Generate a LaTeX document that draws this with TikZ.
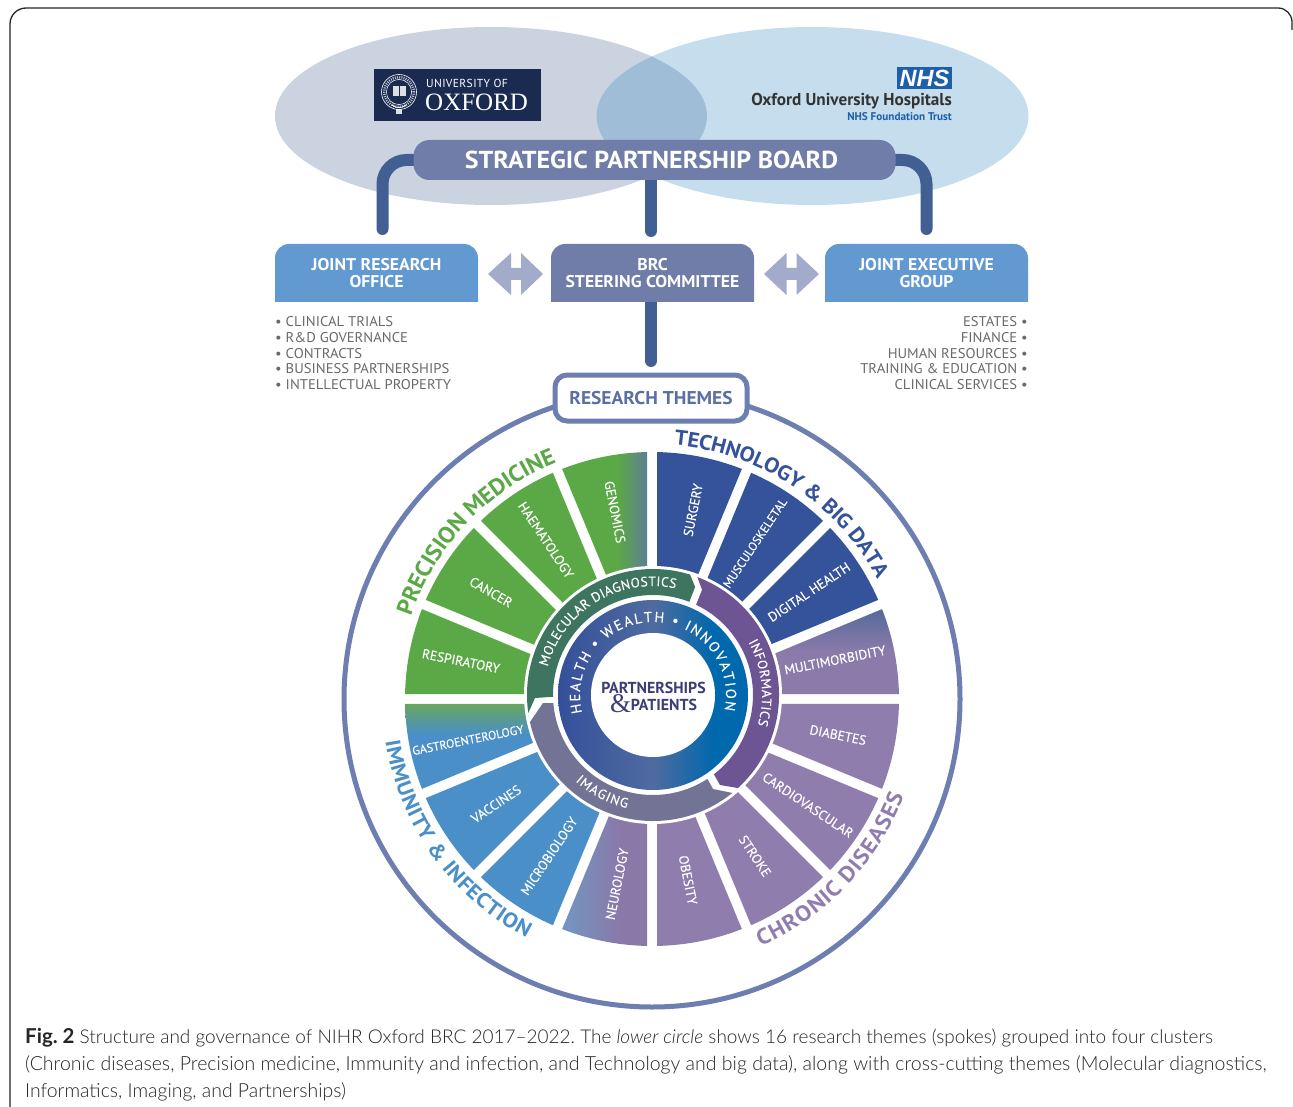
\documentclass[tikz,border=0pt]{standalone}
\usepackage{fontspec}
\setmainfont{PT Sans}
\newfontfamily\capfont{Lato Light}
\newfontfamily\capbold{Lato}
\newfontfamily\oxfont{Liberation Serif}
\newfontfamily\nhsfont{Liberation Sans}
\usetikzlibrary{calc}
\pgfdeclarelayer{back}
\pgfdeclarelayer{pipes}
\pgfsetlayers{back,pipes,main}
\definecolor{cgreen}{HTML}{5BA846}
\definecolor{ctech}{HTML}{35539A}
\definecolor{cimm}{HTML}{4A8FC7}
\definecolor{cpur}{HTML}{8F7DAE}
\definecolor{cchron}{HTML}{8F7DB0}
\definecolor{cmol}{HTML}{3E7560}
\definecolor{cinf}{HTML}{6D5594}
\definecolor{cimg}{HTML}{737396}
\definecolor{cboard}{HTML}{6F7DA8}
\definecolor{cpipe}{HTML}{425F93}
\definecolor{cbox}{HTML}{6299D1}
\definecolor{carrow}{HTML}{A3ABCB}
\definecolor{cring}{HTML}{6D7EB0}
\definecolor{clist}{HTML}{6A6A6A}
\definecolor{cnavy}{HTML}{3B3F75}
\definecolor{coxf}{HTML}{1A2A50}
\definecolor{cnhs}{HTML}{1D5FA8}
\definecolor{cellA}{HTML}{CAD3DF}
\definecolor{cellB}{HTML}{C6DDEE}
\definecolor{cellC}{HTML}{9FBDD6}
\definecolor{ctheme}{HTML}{5B6FA6}
\definecolor{HTMLgb}{HTML}{5E7F95}
\definecolor{HTMLmm}{HTML}{566A9A}
\definecolor{HTMLmm2}{HTML}{8A7BAA}
\definecolor{HTMLga}{HTML}{68A660}
\definecolor{HTMLne}{HTML}{7494BF}
\definecolor{HTMLne2}{HTML}{8A78A9}
\definecolor{HTMLr1}{HTML}{35509A}
\definecolor{HTMLr2}{HTML}{4F6BA0}
\definecolor{HTMLr3}{HTML}{0068AD}
\pgfdeclarehorizontalshading{genshade}{100bp}{color(0bp)=(cgreen);color(58bp)=(cgreen);color(75bp)=(HTMLgb);color(100bp)=(HTMLgb)}
\pgfdeclareverticalshading{mmshade}{100bp}{color(0bp)=(HTMLmm2);color(50bp)=(HTMLmm2);color(75bp)=(HTMLmm);color(100bp)=(HTMLmm)}
\pgfdeclareverticalshading{gashade}{100bp}{color(0bp)=(cimm);color(57bp)=(cimm);color(75bp)=(HTMLga);color(100bp)=(HTMLga)}
\pgfdeclarehorizontalshading{neshade}{100bp}{color(0bp)=(HTMLne);color(28bp)=(HTMLne);color(60bp)=(HTMLne2);color(100bp)=(HTMLne2)}
\pgfdeclarehorizontalshading{ringshade}{100bp}{color(0bp)=(HTMLr1);color(25bp)=(HTMLr1);color(50bp)=(HTMLr2);color(66bp)=(HTMLr3);color(100bp)=(HTMLr3)}
\tikzset{
  x=1pt,y=1pt,
  spokelabel/.style={text=white,font=\addfontfeature{FakeBold=0.2}\fontsize{13.4}{14}\selectfont},
  spokesmall/.style={text=white,font=\addfontfeature{FakeBold=0.2}\fontsize{12.1}{14}\selectfont},
  boxlabel/.style={text=white,font=\fontsize{17}{17}\selectfont\bfseries\addfontfeature{FakeStretch=1.04},align=center},
  listtext/.style={text=clist,font=\fontsize{14.1}{15.7}\selectfont\addfontfeature{FakeStretch=1.04}},
  pipe/.style={draw=cpipe,line width=12pt,line cap=round},
  govbox/.style={minimum width=203pt,minimum height=58pt,inner sep=0pt},
  caption/.style={text=black!85,inner sep=0pt,anchor=base west},
  arcletter/.style={inner sep=0pt,outer sep=0pt,anchor=base},
}
\newcommand\spoke[2]{%
  \path[#2] ($(wc)+({#1+11.25}:25.6)$) -- ($(wc)+({#1+1.16}:247)$)
    arc[start angle={#1+1.16},end angle={#1+21.34},radius=247] -- cycle;}
\newdimen\arcTotal \newdimen\arcW \newdimen\arcPos
\newcount\arcN \newcount\arcID \newcount\arcI
\newbox\arcBox
\makeatletter
% font, colour, letters (~ for a space), centre, radius, start angle, end angle,
% mode: 1 = steps proportional to letter widths, 0 = equal tracking between letters
\newcommand\arcMeasure[1]{\setbox\arcBox=\hbox{\pgfinterruptpicture#1\arcCh\endpgfinterruptpicture}}
\newcommand\arctext[8]{%
  \global\advance\arcID by 1
  \arcTotal=0pt \arcN=0 \arcI=0
  \@tfor\arcCh:=#3\do{\arcMeasure{#1}\advance\arcTotal by\wd\arcBox \advance\arcN by 1 }%
  \pgfmathsetmacro\arcSgn{(#7>#6)?1:-1}%
  \pgfmathsetmacro\arcLen{abs(#7-#6)*3.14159265/180*#5}%
  \pgfmathsetmacro\arcGap{(\arcLen-\the\arcTotal)/(\the\arcN-1)}%
  \pgfmathsetmacro\arcScale{\arcLen/\the\arcTotal}%
  \arcPos=0pt
  \@tfor\arcCh:=#3\do{%
    \arcMeasure{#1}\arcW=\wd\arcBox
    \pgfmathsetmacro\arcStep{(#8==1)?(\arcW*\arcScale):(\arcW+\arcGap)}%
    \pgfmathsetmacro\arcMid{(#8==1)?(0.5*\arcStep):(0.5*\arcW)}%
    \pgfmathsetmacro\arcAng{#6+\arcSgn*(\arcPos+\arcMid)/#5*57.29578}%
    \pgfmathsetmacro\arcRot{\arcAng+\arcSgn*90}%
    \advance\arcI by 1
    \node[arcletter,text=#2,rotate=\arcRot] (arc\the\arcID-\the\arcI) at ($(#4)+(\arcAng:#5)$) {#1\arcCh};
    \advance\arcPos by\arcStep pt
  }%
}
\makeatother
\begin{document}
\begin{tikzpicture}
\useasboundingbox (0,-1107) rectangle (1293,0);
\coordinate (wc) at (652,-699);
\coordinate (rc) at (653,-695);
\begin{pgfonlayer}{back}
\fill[white] (0,-1107) rectangle (1293,0);
\draw[black!85,line width=1.3pt] (10,-1107) -- (10,-24) arc[start angle=180,end angle=90,radius=16] -- (1278,-8) arc[start angle=90,end angle=0,radius=14] -- (1292,-30);
\fill[cellA] (491,-116) ellipse[x radius=216,y radius=89];
\fill[cellB] (812.5,-116) ellipse[x radius=216,y radius=89];
\begin{scope}
\clip (491,-116) ellipse[x radius=216,y radius=89];
\fill[cellC] (812.5,-116) ellipse[x radius=216,y radius=89];
\end{scope}
\end{pgfonlayer}
% Oxford logo
\node[fill=coxf,minimum width=167pt,minimum height=52pt,inner sep=0pt] (oxlogo) at (457.5,-95) {};
\draw[white,line width=0.6pt] (399,-92) circle[radius=17.5];
\draw[white,line width=2.5pt,dash pattern=on 1pt off 1.2pt,opacity=.7] (399,-92) circle[radius=14.8];
\draw[white,line width=0.5pt] (399,-92) circle[radius=12.6];
\fill[white,opacity=.85] (392.5,-96) rectangle (405.5,-86);
\draw[coxf,line width=.7pt] (399,-96) -- (399,-86);
\draw[white,line width=.8pt] (392,-105) .. controls (396,-108.5) and (402,-108.5) .. (406,-105);
\fill[white,opacity=.85] (396,-114) rectangle (402,-109);
\node[text=white,font=\fontsize{11.6}{12}\selectfont\addfontfeature{LetterSpace=3},anchor=west,inner sep=0pt] (oxuni) at (426,-83.5) {UNIVERSITY OF};
\node[text=white,font=\oxfont\fontsize{25}{25}\selectfont,anchor=west,inner sep=0pt] (oxname) at (425,-102) {OXFORD};
% NHS logo
\node[fill=cnhs,minimum width=55pt,minimum height=22pt,inner sep=0pt] (nhslogo) at (924.5,-78.5) {};
\node[text=white,font=\nhsfont\fontsize{23.5}{24}\selectfont\bfseries\itshape,inner sep=0pt] (nhstext) at (924.5,-78.5) {NHS};
\node[text=black!80,font=\fontsize{17.2}{17}\selectfont\bfseries,anchor=east,inner sep=0pt] (ouh) at (952,-101.5) {Oxford University Hospitals};
\node[text=cnhs,font=\fontsize{11.2}{11}\selectfont\bfseries,anchor=east,inner sep=0pt] (nft) at (952,-116.5) {NHS Foundation Trust};
% board
\node[fill=cboard,rounded corners=16pt,minimum width=482pt,minimum height=40pt,inner sep=0pt] (board) at (654.5,-160) {};
\node[text=white,font=\fontsize{24.5}{25}\selectfont\bfseries\addfontfeature{FakeStretch=1.06},inner sep=0pt] (boardtext) at (651.5,-160) {STRATEGIC PARTNERSHIP BOARD};
% gov boxes
\path[fill=cbox] (275,-302) -- (275,-258) [rounded corners=14pt] -- (275,-244) -- (478,-244) [sharp corners] -- (478,-258) -- (478,-302) -- cycle;
\node[govbox,boxlabel] (jro) at (376.5,-273) {JOINT RESEARCH\\OFFICE};
\path[fill=cboard] (551,-302) -- (551,-258) [rounded corners=14pt] -- (551,-244) -- (754,-244) [sharp corners] -- (754,-258) -- (754,-302) -- cycle;
\node[govbox,boxlabel] (brc) at (652.5,-273) {BRC\\STEERING COMMITTEE};
\path[fill=cbox] (825,-302) -- (825,-258) [rounded corners=14pt] -- (825,-244) -- (1028,-244) [sharp corners] -- (1028,-258) -- (1028,-302) -- cycle;
\node[govbox,boxlabel] (jeg) at (926.5,-273) {JOINT EXECUTIVE\\GROUP};
% connectors
\coordinate (lend) at (382.5,-229);
\coordinate (rend) at (926.5,-229);
\coordinate (cend) at (651,-231);
\coordinate (send) at (651,-361);
\begin{pgfonlayer}{pipes}
\draw[pipe,rounded corners=24pt] (board.west) -| (lend);
\draw[pipe,rounded corners=24pt] (board.east) -| (rend);
\draw[pipe] (cend |- board.south) -- (cend);
\draw[pipe] (send |- brc.south) -- (send);
\end{pgfonlayer}
% double arrows
\fill[carrow] (488,-274) -- (511,-253) -- (511,-268) -- (521,-268) -- (521,-253) -- (543,-274) -- (521,-295) -- (521,-280) -- (511,-280) -- (511,-295) -- cycle;
\fill[carrow] (764,-274) -- (786.5,-253) -- (786.5,-268) -- (796.5,-268) -- (796.5,-253) -- (819,-274) -- (796.5,-295) -- (796.5,-280) -- (786.5,-280) -- (786.5,-295) -- cycle;
% lists
\node[listtext,anchor=north west,align=left,inner sep=0pt] (llist) at (275,-316.5) {• CLINICAL TRIALS\\• R\&D GOVERNANCE\\• CONTRACTS\\• BUSINESS PARTNERSHIPS\\• INTELLECTUAL PROPERTY};
\node[listtext,anchor=north east,align=right,inner sep=0pt] (rlist) at (1028,-316.5) {ESTATES •\\FINANCE •\\HUMAN RESOURCES •\\TRAINING \& EDUCATION •\\CLINICAL SERVICES •};
% big circle
\draw[cring,line width=5pt] (wc) circle[radius=308];
\node[draw=cring,line width=5pt,fill=white,rounded corners=12pt,minimum width=192pt,minimum height=46pt,inner sep=0pt,text=ctheme,font=\fontsize{18.5}{19}\selectfont\bfseries\addfontfeature{FakeStretch=1.05}] (themes) at (651,-398) {RESEARCH THEMES};
% spokes, clockwise from north
\spoke{67.5}{fill=ctech}
\spoke{45}{fill=ctech}
\spoke{22.5}{fill=ctech}
\spoke{0}{shade,shading=mmshade}
\spoke{-22.5}{fill=cpur}
\spoke{-45}{fill=cpur}
\spoke{-67.5}{fill=cpur}
\spoke{-90}{fill=cpur}
\spoke{-112.5}{shade,shading=neshade}
\spoke{-135}{fill=cimm}
\spoke{-157.5}{fill=cimm}
\spoke{-180}{shade,shading=gashade}
\spoke{157.5}{fill=cgreen}
\spoke{135}{fill=cgreen}
\spoke{112.5}{fill=cgreen}
\spoke{90}{shade,shading=genshade}
\fill[white] (rc) circle[radius=129];
% cross-cutting rings
\fill[cmol] ($(rc)+(188.2:126)$) arc[start angle=188.2,end angle=72.9,radius=126] -- ($(rc)+(68.7:116)$) -- ($(rc)+(68.7:100)$) arc[start angle=68.7,end angle=181,radius=100] -- (535,-698) -- cycle;
\fill[cinf] ($(rc)+(69.4:126)$) arc[start angle=69.4,end angle=-47.6,radius=126] -- (720,-785) -- ($(rc)+(-52.5:100)$) arc[start angle=-52.5,end angle=64.5,radius=100] -- ($(rc)+(65:116)$) -- cycle;
\fill[cimg] ($(rc)+(-51:126)$) arc[start angle=-51,end angle=-167.6,radius=126] -- (543,-703) -- ($(rc)+(-175.4:100)$) arc[start angle=-175.4,end angle=-57,radius=100] -- (713,-789) -- cycle;
\shade[shading=ringshade] (rc) circle[radius=95];
\fill[white] (rc) circle[radius=62];
% centre text
\node[text=cnavy,font=\fontsize{15.9}{16}\selectfont\bfseries,inner sep=0pt] (cpart) at (653.5,-688) {PARTNERSHIPS};
\node[text=cnavy,font=\oxfont\fontsize{27}{27}\selectfont,inner sep=0pt] (camp) at (620.5,-704) {\&};
\node[text=cnavy,font=\fontsize{15.9}{16}\selectfont\bfseries,inner sep=0pt] (cpat) at (664,-705) {PATIENTS};
% spoke labels
\node[spokelabel,rotate=78.75] (surgery) at (693,-510) {SURGERY};
\node[spokesmall,rotate=56.25] (musc) at (755,-543) {MUSCULOSKELETAL};
\node[spokelabel,rotate=33.75] (digital) at (809,-592) {DIGITAL HEALTH};
\node[spokelabel,rotate=11.25] (multi) at (835,-660) {MULTIMORBIDITY};
\node[spokelabel,rotate=-11.25] (diab) at (838,-735) {DIABETES};
\node[spokelabel,rotate=-33.75] (cardio) at (808,-805) {CARDIOVASCULAR};
\node[spokelabel,rotate=-56.25] (stroke) at (755,-856) {STROKE};
\node[spokelabel,rotate=-78.75] (obesity) at (688,-880) {OBESITY};
\node[spokelabel,rotate=78.75] (neuro) at (617,-884) {NEUROLOGY};
\node[spokelabel,rotate=56.25] (micro) at (549,-856) {MICROBIOLOGY};
\node[spokelabel,rotate=33.75] (vacc) at (496,-804) {VACCINES};
\node[spokesmall,rotate=11.25] (gastro) at (468,-740) {GASTROENTEROLOGY};
\node[spokelabel,rotate=-11.25] (resp) at (461,-661) {RESPIRATORY};
\node[spokelabel,rotate=-30] (cancer) at (491,-592) {CANCER};
\node[spokelabel,rotate=-56.25] (haem) at (546,-540) {HAEMATOLOGY};
\node[spokelabel,rotate=-78.75] (geno) at (615,-512) {GENOMICS};
% curved texts
\arctext{\fontsize{23}{23}\selectfont\bfseries\addfontfeature{FakeStretch=1.05}}{cgreen}{PRECISION~MEDICINE}{wc}{255}{161}{112}{1}
\arctext{\fontsize{21}{21}\selectfont\bfseries\addfontfeature{FakeStretch=1.08}}{ctech}{TECHNOLOGY~\&~BIG~DATA}{wc}{255}{85}{28}{1}
\arctext{\fontsize{21}{21}\selectfont\bfseries\addfontfeature{FakeStretch=1.08}}{cimm}{IMMUNITY~\&~INFECTION}{wc}{270}{189}{242.4}{1}
\arctext{\fontsize{22}{22}\selectfont\bfseries\addfontfeature{FakeStretch=1.08}}{cchron}{CHRONIC~DISEASES}{wc}{270}{-66.4}{-21}{1}
\arctext{\fontsize{13.5}{14}\selectfont\addfontfeature{FakeBold=0.2}}{white}{MOLECULAR~DIAGNOSTICS}{rc}{109}{165}{78}{0}
\arctext{\fontsize{13.5}{14}\selectfont\addfontfeature{FakeBold=0.2}}{white}{INFORMATICS}{rc}{109}{29}{-16}{0}
\arctext{\fontsize{13.5}{14}\selectfont\addfontfeature{FakeBold=0.2}}{white}{IMAGING}{rc}{116}{228}{257}{0}
\arctext{\fontsize{14.5}{15}\selectfont\addfontfeature{FakeBold=0.2}}{white}{HEALTH~•~WEALTH~•~INNOVATION}{rc}{73}{194}{-12}{0}
% caption
\node[caption,font=\capfont\fontsize{19.0}{20}\selectfont\frenchspacing] (cap1) at (25,-1043) {{\capbold\bfseries\fontsize{20.5}{20}\selectfont Fig. 2} Structure and governance of NIHR Oxford BRC 2017–2022. The \textit{lower circle} shows 16 research themes (spokes) grouped into four clusters};
\node[caption,font=\capfont\fontsize{19.5}{20}\selectfont] (cap2) at (25,-1070) {(Chronic diseases, Precision medicine, Immunity and infection, and Technology and big data), along with cross-cutting themes (Molecular diagnostics,};
\node[caption,font=\capfont\fontsize{19.4}{20}\selectfont] (cap3) at (25,-1097) {Informatics, Imaging, and Partnerships)};
\end{tikzpicture}
\end{document}
